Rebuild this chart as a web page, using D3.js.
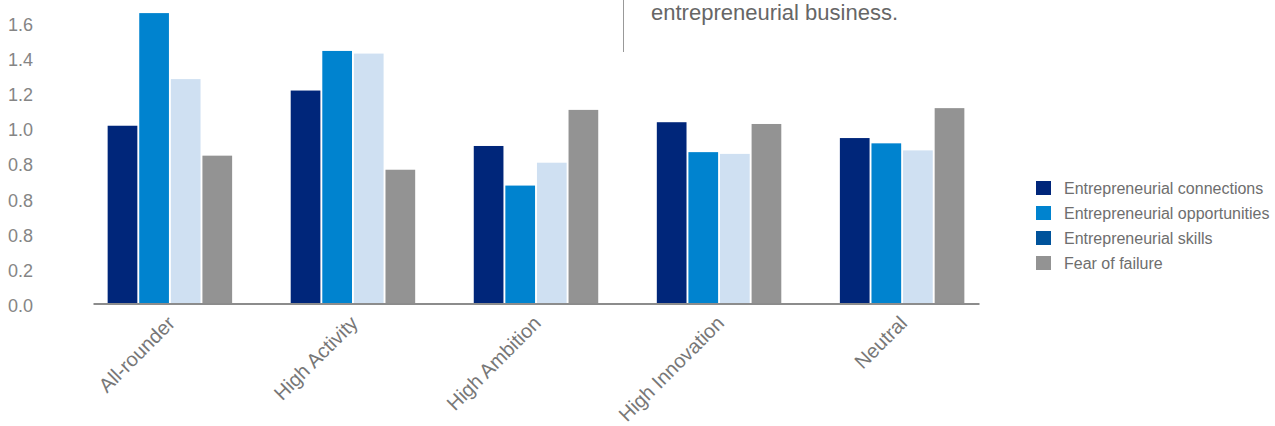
<!DOCTYPE html>
<html>
<head>
<meta charset="utf-8">
<script src="https://cdn.jsdelivr.net/npm/d3@7"></script>
<style>
  body { margin: 0; background: #fff; }
  svg text { font-family: "Liberation Sans", Arial, sans-serif; }
</style>
</head>
<body>
<div id="chart"></div>
<script>
// data
const categories = ['All-rounder', 'High Activity', 'High Ambition', 'High Innovation', 'Neutral'];
const series = ['Entrepreneurial connections', 'Entrepreneurial opportunities', 'Entrepreneurial skills', 'Fear of failure'];
const connections = [1.01, 1.21, 0.895, 1.03, 0.94];
const opportunities = [1.65, 1.435, 0.67, 0.86, 0.91];
const skills = [1.275, 1.42, 0.80, 0.85, 0.87];
const fear = [0.84, 0.76, 1.10, 1.02, 1.11];
const yTicks = [0, 0.2, 0.4, 0.6, 0.8, 1.0, 1.2, 1.4, 1.6];
// the source labels three ticks "0.8", keep it as printed
const yTickLabels = ['0.0', '0.2', '0.8', '0.8', '0.8', '1.0', '1.2', '1.4', '1.6'];

const barColors = ['#00267a', '#0083cf', '#cfe0f2', '#939393'];
const legendColors = ['#00267a', '#0083cf', '#00539b', '#939393'];

const values = [connections, opportunities, skills, fear];
const rows = categories.map((c, i) => ({
  category: c,
  vals: series.map((s, j) => ({ key: s, value: values[j][i], idx: j }))
}));

const width = 1275;
const height = 426;

const svg = d3.select('#chart')
  .append('svg')
  .attr('width', width)
  .attr('height', height);

// scales
let x0 = d3.scaleBand()
  .domain(categories)
  .range([93, 979])
  .paddingInner(0.32)
  .paddingOuter(0.08);

let x1 = d3.scaleBand()
  .domain(series)
  .range([0, x0.bandwidth()])
  .paddingInner(0.06);

let y = d3.scaleLinear()
  .domain([0, 1.6])
  .range([303.5, 21.9]);

// bars
svg.append('g')
  .selectAll('g')
  .data(rows)
  .join('g')
  .attr('transform', (d) => `translate(${x0(d.category)}, 0)`)
  .selectAll('rect')
  .data((d) => d.vals)
  .join('rect')
  .attr('x', (d) => x1(d.key))
  .attr('y', (d) => y(d.value))
  .attr('width', x1.bandwidth())
  .attr('height', (d) => y(0) - y(d.value))
  .attr('fill', (d) => barColors[d.idx]);

// y axis, labels only
let yAxis = svg.append('g')
  .attr('transform', 'translate(35, 0)')
  .call(d3.axisLeft(y)
    .tickValues(yTicks)
    .tickSize(0)
    .tickPadding(2)
    .tickFormat((d, i) => yTickLabels[i]));
yAxis.select('.domain').remove();
yAxis.selectAll('text')
  .attr('dy', '0.45em')
  .style('font-size', '18px')
  .style('fill', '#858585');

// x axis
let xAxis = svg.append('g')
  .attr('transform', `translate(0, ${y(0)})`)
  .call(d3.axisBottom(x0).tickSize(0).tickSizeOuter(0));
xAxis.select('.domain')
  .attr('stroke', '#8c8c8c')
  .attr('stroke-width', 2);
xAxis.selectAll('text')
  .attr('text-anchor', 'end')
  .attr('x', 0)
  .attr('y', 0)
  .attr('dy', 0)
  .attr('transform', `translate(${x0.bandwidth() / 2 - 56}, 21) rotate(-45)`)
  .style('font-size', '20px')
  .style('fill', '#777');

// caption fragment at the top and its divider
svg.append('line')
  .attr('x1', 623.5).attr('x2', 623.5)
  .attr('y1', 0).attr('y2', 52)
  .attr('stroke', '#999')
  .attr('stroke-width', 1);

svg.append('text')
  .attr('x', 651)
  .attr('y', 20)
  .text('entrepreneurial business.')
  .style('font-size', '22px')
  .style('fill', '#666');

// Handmade legend
for (let i = 0; i < series.length; i++) {
  let cy = 188 + 25 * i;

  svg.append('rect')
    .attr('x', 1036)
    .attr('y', cy - 7)
    .attr('width', 15)
    .attr('height', 14)
    .style('fill', legendColors[i]);

  svg.append('text')
    .attr('x', 1064)
    .attr('y', cy)
    .attr('dy', '0.35em')
    .text(series[i])
    .style('font-size', '16px')
    .style('fill', '#6e6e6e');
}
</script>
</body>
</html>
